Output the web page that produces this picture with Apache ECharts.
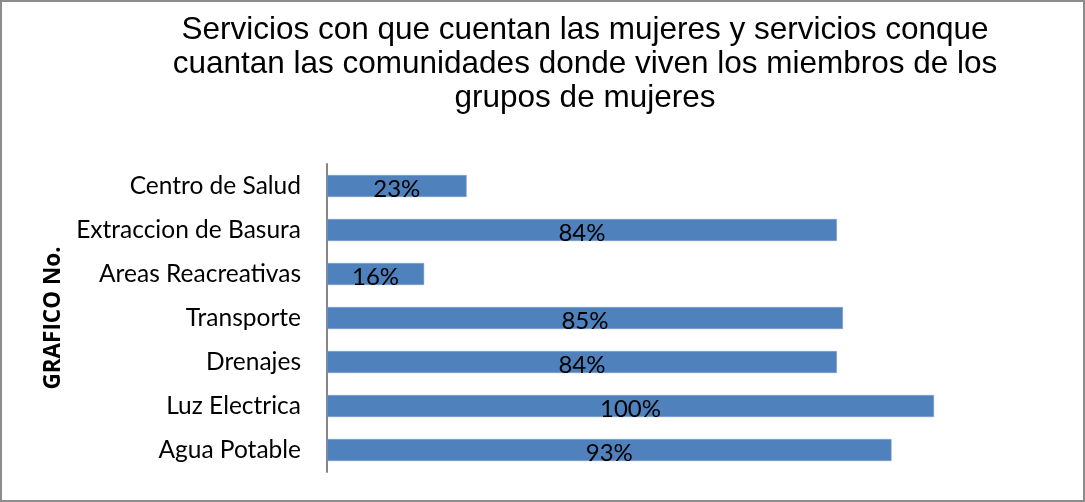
<!DOCTYPE html>
<html><head><meta charset="utf-8">
<script src="https://cdn.jsdelivr.net/npm/echarts@6/dist/echarts.min.js"></script>
<style>html,body{margin:0;padding:0;background:#fff}#c{width:1085px;height:502px;box-sizing:border-box;border:2px solid #8c8c8c}</style>
</head><body><div id="c"></div>
<script>
const categories = ['Agua Potable','Luz Electrica','Drenajes','Transporte','Areas Reacreativas','Extraccion de Basura','Centro de Salud'];
const values = [0.93, 1.00, 0.84, 0.85, 0.16, 0.84, 0.23];
const titleText = 'Servicios con que cuentan las mujeres y servicios conque\ncuantan las comunidades donde viven los miembros de los\ngrupos de mujeres';
const axisName = 'GRAFICO No.';
const chart = echarts.init(document.getElementById('c'));
chart.setOption({
  animation:false,
  title:{text:titleText,left:578,top:6,textAlign:'center',textStyle:{fontFamily:'Liberation Sans',fontSize:31.5,fontWeight:'normal',color:'#000',lineHeight:34}},
  grid:{left:325,top:162,width:607,height:308,containLabel:false},
  xAxis:{type:'value',min:0,max:1,show:false},
  yAxis:{type:'category',data:categories,name:axisName,nameLocation:'middle',nameGap:253,nameRotate:90,
    nameTextStyle:{fontFamily:'Open Sans',fontWeight:'bold',fontSize:22.5,color:'#000'},
    axisLine:{lineStyle:{color:'#868686',width:2}},axisTick:{show:false},
    axisLabel:{fontFamily:'Lato',fontSize:24.5,color:'#000',margin:26}},
  series:[{type:'bar',data:values,barWidth:22,itemStyle:{color:'#4f81bd',borderColor:'#7ea3d2',borderWidth:0.5},
    label:{show:true,position:'inside',offset:[0,3],fontFamily:'Lato',fontSize:24,color:'#000',
      formatter:p=>Math.round(p.value*100)+'%'}}]
});
</script></body></html>
